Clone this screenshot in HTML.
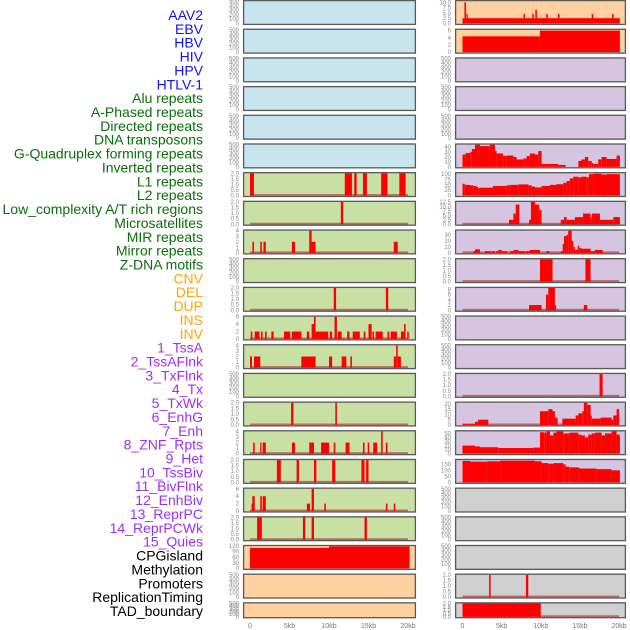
<!DOCTYPE html>
<html><head><meta charset="utf-8"><style>
body{margin:0;background:#fff;}
svg{display:block;font-family:"Liberation Sans",sans-serif;}
</style></head><body>
<svg id="chart" width="630" height="630" viewBox="0 0 630 630" xmlns="http://www.w3.org/2000/svg"></svg>
<script>
// ---------- data ----------
const trackLabels = ["AAV2","EBV","HBV","HIV","HPV","HTLV-1","Alu repeats","A-Phased repeats","Directed repeats","DNA transposons","G-Quadruplex forming repeats","Inverted repeats","L1 repeats","L2 repeats","Low_complexity A/T rich regions","Microsatellites","MIR repeats","Mirror repeats","Z-DNA motifs","CNV","DEL","DUP","INS","INV","1_TssA","2_TssAFlnk","3_TxFlnk","4_Tx","5_TxWk","6_EnhG","7_Enh","8_ZNF_Rpts","9_Het","10_TssBiv","11_BivFlnk","12_EnhBiv","13_ReprPC","14_ReprPCWk","15_Quies","CPGisland","Methylation","Promoters","ReplicationTiming","TAD_boundary"];
const labelColors = ["#1010ff","#1010ff","#1010ff","#1010ff","#1010ff","#1010ff","#0a6e0a","#0a6e0a","#0a6e0a","#0a6e0a","#0a6e0a","#0a6e0a","#0a6e0a","#0a6e0a","#0a6e0a","#0a6e0a","#0a6e0a","#0a6e0a","#0a6e0a","#ffa500","#ffa500","#ffa500","#ffa500","#ffa500","#a030f0","#a030f0","#a030f0","#a030f0","#a030f0","#a030f0","#a030f0","#a030f0","#a030f0","#a030f0","#a030f0","#a030f0","#a030f0","#a030f0","#a030f0","#000","#000","#000","#000","#000"];
const xTickValues = [0,5,10,15,20];
const xTickLabels = ["0","5kb","10kb","15kb","20kb"];

const ticks500 = ["0","100","200","300","400","500"];
const ticks2 = ["0.0","0.5","1.0","1.5","2.0"];
const ticks4 = ["0","1","2","3","4"];
const ticks6 = ["0","2","4","6"];

// left column segments [startKb, endKb, value]
const L_L1 = [[0,0.5,2],[12,12.9,2],[13.2,13.5,2],[14.3,14.8,2],[16.6,17.4,2],[18.9,19.7,2]];
const L_L2 = [[11.5,11.8,2]];
const L_MIR = [[0.3,0.5,2],[1.3,1.5,2],[1.7,2.0,2],[5.3,5.7,2],[7.5,7.8,4],[7.8,8.3,2],[18.2,18.7,2]];
const L_DEL = [[10.6,10.9,2],[17.2,17.5,2]];
const L_INS = [[0.1,0.3,2],[0.6,1.2,2],[1.4,1.6,2],[1.9,2.1,2],[2.7,3.0,2],[4.3,5.1,2],[5.3,6.5,2],[7.2,7.5,2],[7.8,8.1,4],[8.1,8.3,6],[8.3,9.9,2],[10.1,10.4,2],[10.7,11.0,6],[11.1,11.6,2],[12.3,12.6,2],[13.0,13.9,2],[14.4,14.6,2],[15.0,15.4,4],[15.5,15.7,2],[15.9,16.8,2],[17.4,17.6,2],[17.8,18.6,2],[19.1,19.5,2],[19.5,19.7,4],[19.9,20.1,2]];
const L_INV = [[0,0.25,2],[0.5,1.3,2],[6.5,8.3,2],[10.0,10.4,2],[11.6,12.2,2],[12.7,12.9,2],[18.2,18.5,2],[18.5,18.7,4],[18.7,19.1,2]];
const L_TxFlnk = [[5.2,5.5,2],[10.8,11.0,2]];
const L_TxWk = [[0.4,0.6,2],[1.3,1.4,2],[1.6,2.0,2],[5.3,5.7,2],[7.5,8.1,2],[9.0,10.0,2],[10.6,10.8,2],[12.1,12.6,2],[14.3,14.5,2],[14.9,15.1,2],[15.6,16.1,2],[16.6,16.8,4],[17.2,17.4,2]];
const L_EnhG = [[3.4,3.9,2],[5.9,6.2,2],[8.1,8.4,2],[10.4,10.8,2],[14.1,14.5,2],[14.7,15.0,2]];
const L_Enh = [[0.2,0.3,2],[0.3,0.6,4],[1.3,1.5,4],[1.6,2.0,4],[7.2,7.6,2],[7.8,8.1,6],[9.4,9.6,2],[17.2,17.4,2],[18.2,18.4,2]];
const L_ZNF = [[0.9,1.2,2],[1.2,1.5,2],[6.7,7.0,2],[7.8,8.1,2],[14.5,14.8,2]];
const L_CpG = [[0,10,110],[10,20.2,119]];

// right column segments
const R_AAV2 = [[0,20.1,2.5],[0.25,0.45,10],[0.5,0.66,4.5],[7.8,8.0,4.5],[8.9,9.1,4.5],[9.3,9.5,6.5],[10.7,10.9,4.5],[12.2,12.4,4.5],[16.5,16.7,4.5],[19.1,19.3,4.5]];
const R_EBV = [[0,9.9,4.4],[9.9,20.1,6]];
const R_GQuad = [[0,0.4,25],[0.4,1.0,28],[1.0,1.2,30],[1.2,1.6,36],[1.6,2.23,45],[2.23,3.5,42],[3.5,4.15,45],[4.15,4.36,32],[4.36,5.2,27],[5.2,5.64,22],[5.64,6.5,23],[6.5,6.9,20],[6.9,7.77,15],[7.77,8.2,17],[8.2,8.6,22],[8.6,9.26,27],[9.26,9.68,25],[9.68,10.1,32],[10.1,12.23,6],[12.23,13.17,4],[14.8,15.2,12],[15.2,15.64,15],[15.64,16.06,20],[16.06,16.5,12],[16.5,16.7,8],[16.7,17.34,6],[17.34,17.77,15],[17.77,18.4,20],[18.4,19.68,16],[19.68,20.1,23]];
const R_L1 = [[0,0.3,55],[0.3,0.96,50],[0.96,1.38,48],[1.38,1.8,45],[1.8,2.0,40],[2.0,2.23,35],[2.23,3.9,37],[3.9,5.64,45],[5.64,6.06,48],[6.06,7.13,50],[7.13,8.4,52],[8.4,8.83,48],[8.83,9.26,42],[9.26,10.1,38],[10.1,11.17,45],[11.17,12.0,50],[12.0,12.87,53],[12.87,13.3,60],[13.3,13.7,68],[13.7,14.15,80],[14.15,14.8,88],[14.8,15.2,85],[15.2,15.85,88],[15.85,16.15,85],[16.15,16.7,100],[16.7,17.77,102],[17.77,18.4,98],[18.4,20.1,100]];
const R_L2 = [[5.94,6.5,2.5],[6.5,6.8,6],[6.8,7.26,11],[8.5,8.74,2.5],[8.74,9.26,12.5],[9.26,9.8,11],[9.8,10.1,8],[12.55,12.96,2.5],[12.96,13.3,4],[13.3,14.36,2.5],[14.36,15.4,4],[15.4,16.36,6],[16.36,16.53,4],[16.53,17.55,6],[17.55,19.26,2.5],[19.26,20.1,4]];
const R_LowCx = [[1.38,1.6,3],[1.6,2.23,6],[2.87,3.6,3],[3.7,4.15,3],[4.3,4.57,3],[4.57,5.0,5],[5.0,5.72,3],[6.06,6.5,3],[6.5,7.13,5],[7.13,7.98,3],[8.07,8.6,3],[8.6,9.9,5],[10.7,11.1,3],[12.55,12.8,3],[12.8,12.96,15],[12.96,13.3,28],[13.3,13.5,30],[13.5,13.94,37],[13.94,14.15,20],[14.15,14.36,10],[14.36,14.7,5],[14.7,14.9,12],[14.9,15.2,8],[15.2,16.36,7],[16.36,16.9,3],[16.9,17.9,5]];
const R_Micro = [[9.9,11.5,2],[15.7,16.36,2]];
const R_MIR = [[8.5,10.1,2],[10.66,10.96,6],[10.96,11.8,8.5],[11.8,11.93,2],[15.5,15.94,2]];
const R_TssAFlnk = [[17.5,17.9,2]];
const R_EnhG = [[0,1.6,0.8],[1.6,2.0,3],[2.0,3.3,5],[9.9,10.96,13],[10.96,11.5,15],[11.5,11.8,13],[11.8,12.15,7],[12.75,14.45,6],[14.45,14.8,9],[14.8,15.3,11],[15.3,15.5,13],[15.5,15.94,21],[15.94,16.36,19],[16.36,16.5,9],[16.5,17.64,6],[17.64,19.04,7],[19.04,19.26,5],[19.26,19.68,9],[19.68,20.0,15]];
const R_Enh = [[0,1.6,20],[1.6,2.23,18],[2.23,4.57,16],[4.57,9.04,14],[9.04,9.9,15],[9.9,10.45,53],[10.45,10.74,52],[10.74,11.17,55],[11.17,11.6,45],[11.6,12.0,52],[12.0,12.87,55],[12.87,13.7,50],[13.7,14.8,52],[14.8,15.2,47],[15.2,15.64,45],[15.64,16.06,40],[16.06,16.5,47],[16.5,16.9,50],[16.9,17.77,52],[17.77,18.2,45],[18.2,19.04,50],[19.04,19.68,55],[19.68,20.1,47]];
const R_ZNF = [[0,0.96,178],[0.96,3.1,172],[3.1,4.8,175],[4.8,9.26,180],[9.26,10.1,175],[10.1,10.96,160],[10.96,11.6,155],[11.6,12.87,160],[12.87,13.17,150],[13.17,13.64,130],[13.64,14.8,125],[14.8,15.0,120],[15.0,17.1,115],[17.1,19.04,110],[19.04,20.1,100]];
const R_Repli = [[3.4,3.6,2],[8.1,8.4,2]];
const R_TAD = [[0,10,2]];

// ---------- config (styles) ----------
const BLUE="#c8e4ec",GREEN="#c8e0a4",ORANGE="#ffd0a0",PURPLE="#d5c5e1",GRAY="#d0d0d0";
const E500 = {ymax:500,ticks:ticks500,segs:[],base:false};
const leftPanels = [
 {fill:BLUE,...E500},{fill:BLUE,...E500},{fill:BLUE,...E500},{fill:BLUE,...E500},{fill:BLUE,...E500},{fill:BLUE,...E500},
 {fill:GREEN,ymax:2,ticks:ticks2,segs:L_L1,base:true},
 {fill:GREEN,ymax:2,ticks:ticks2,segs:L_L2,base:true},
 {fill:GREEN,ymax:4,ticks:ticks4,segs:L_MIR,base:true},
 {fill:GREEN,...E500},
 {fill:GREEN,ymax:2,ticks:ticks2,segs:L_DEL,base:true},
 {fill:GREEN,ymax:6,ticks:ticks6,segs:L_INS,base:true},
 {fill:GREEN,ymax:4,ticks:ticks4,segs:L_INV,base:true},
 {fill:GREEN,...E500},
 {fill:GREEN,ymax:2,ticks:ticks2,segs:L_TxFlnk,base:true},
 {fill:GREEN,ymax:4,ticks:ticks4,segs:L_TxWk,base:true},
 {fill:GREEN,ymax:2,ticks:ticks2,segs:L_EnhG,base:true},
 {fill:GREEN,ymax:6,ticks:ticks6,segs:L_Enh,base:true},
 {fill:GREEN,ymax:2,ticks:ticks2,segs:L_ZNF,base:true},
 {fill:ORANGE,ymax:120,ticks:["0","30","60","90","120"],segs:L_CpG,base:false},
 {fill:ORANGE,...E500},{fill:ORANGE,...E500}
];
const rightPanels = [
 {fill:ORANGE,ymax:10.5,ticks:["0.0","2.5","5.0","7.5","10.0"],segs:R_AAV2,base:false},
 {fill:ORANGE,ymax:6.2,ticks:ticks6,segs:R_EBV,base:false},
 {fill:PURPLE,...E500},{fill:PURPLE,...E500},{fill:PURPLE,...E500},
 {fill:PURPLE,ymax:45,ticks:["0","10","20","30","40"],segs:R_GQuad,base:false},
 {fill:PURPLE,ymax:104,ticks:["0","25","50","75","100"],segs:R_L1,base:false},
 {fill:PURPLE,ymax:12.5,ticks:["0.0","2.5","5.0","7.5","10.0","12.5"],segs:R_L2,base:true},
 {fill:PURPLE,ymax:37,ticks:["0","10","20","30"],segs:R_LowCx,base:true},
 {fill:PURPLE,ymax:2,ticks:ticks2,segs:R_Micro,base:true},
 {fill:PURPLE,ymax:8.5,ticks:["0","2","4","6","8"],segs:R_MIR,base:true},
 {fill:PURPLE,...E500},{fill:PURPLE,...E500},
 {fill:PURPLE,ymax:2,ticks:ticks2,segs:R_TssAFlnk,base:true},
 {fill:PURPLE,ymax:21,ticks:["0","5","10","15","20"],segs:R_EnhG,base:true},
 {fill:PURPLE,ymax:55,ticks:["0","10","20","30","40","50"],segs:R_Enh,base:false},
 {fill:PURPLE,ymax:185,ticks:["0","50","100","150"],segs:R_ZNF,base:false},
 {fill:GRAY,...E500},{fill:GRAY,...E500},{fill:GRAY,...E500},
 {fill:GRAY,ymax:2,ticks:ticks2,segs:R_Repli,base:true},
 {fill:GRAY,ymax:2,ticks:ticks2,segs:R_TAD,base:true}
];

// ---------- drawing ----------
const svg = document.getElementById('chart');
const NS = "http://www.w3.org/2000/svg";
function mk(tag, attrs, parent){const e=document.createElementNS(NS,tag);for(const k in attrs)e.setAttribute(k,attrs[k]);(parent||svg).appendChild(e);return e;}
const xL = kb => 250 + kb*7.9;
const xR = kb => 462.5 + kb*7.83;
const rowTop = i => i*28.68;
const rowH = i => i===21 ? 16 : 25;

// labels
trackLabels.forEach((t,i)=>{
  const e = mk('text',{x:203,y:15+i*13.86+5,'text-anchor':'end','font-size':14,fill:labelColors[i]});
  e.textContent = t;
  
  
});

function drawPanel(p, i, side){
  const x0 = side==='L'?243:455, x1 = side==='L'?416:626;
  const xs = side==='L'?xL:xR;
  const top = rowTop(i), h = rowH(i);
  const g = mk('g',{});
  
  
  const cid = 'c'+side+i;
  const cp = mk('clipPath',{id:cid},g);
  mk('rect',{x:x0,y:top,width:x1-x0,height:h},cp);
  mk('rect',{x:x0,y:top,width:x1-x0,height:h,fill:p.fill},g);
  const yb = top+h-1.5, yt = top+1.2;
  const ys = v => yb - (v/p.ymax)*(yb-yt);
  const bars = mk('g',{'clip-path':'url(#'+cid+')'},g);
  if(p.base){
    const b = mk('rect',{x:xs(0),y:yb-1.5,width:xs(20)-xs(0),height:1.8,fill:'#b03030',opacity:0.65},bars);
    
    
  }
  p.segs.forEach(s=>{
    const y = ys(s[2]);
    const r = mk('rect',{x:xs(s[0]),y:y,width:Math.max(1.2,xs(s[1])-xs(s[0])),height:yb-y,fill:'#ff0000'},bars);
    
    
  });
  mk('rect',{x:x0+0.6,y:top+0.6,width:x1-x0-1.2,height:h-1.2,fill:'none',stroke:'#5a5a5a','stroke-width':1.3},g);
  // y ticks
  const n = p.ticks.length;
  p.ticks.forEach((t,k)=>{
    const v = parseFloat(t);
    const tt = mk('text',{x:x0-4,y:ys(v)+2,'text-anchor':'end','font-size':6,fill:'#888'},g);
    tt.textContent = t;
    
    
  });
}
leftPanels.forEach((p,i)=>drawPanel(p,i,'L'));
rightPanels.forEach((p,i)=>drawPanel(p,i,'R'));

// x axes
[['L',xL],['R',xR]].forEach(([side,xs])=>{
  xTickValues.forEach((v,k)=>{
    const t = mk('text',{x:xs(v),y:628,'text-anchor':'middle','font-size':7,fill:'#777'});
    t.textContent = xTickLabels[k];
    
    
  });
});
</script>
</body></html>
